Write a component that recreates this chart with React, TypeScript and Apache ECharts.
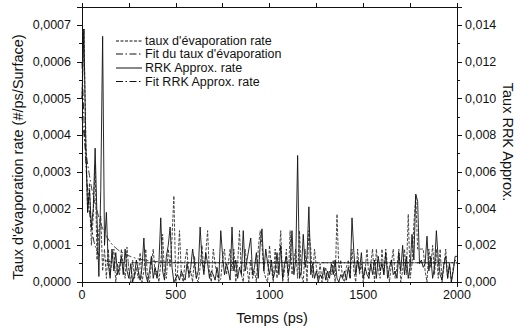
import React, { useEffect, useRef } from "react";
import * as echarts from "echarts";

// sampling grid of the simulation output: one point every 10 ps, 0 .. 2000 ps
const T_STEP = 10;
const T_COUNT = 201;
const times: number[] = Array.from({ length: T_COUNT }, (_, i) => i * T_STEP);

// taux d'évaporation rate (left axis), 0..1990 in rows of 200 ps, then 2000
const evapRate: number[] = [
  50e-5, 69e-5, 40e-5, 19e-5, 27e-5, 10e-5, 18e-5, 32e-5, 6e-5, 14e-5, 18e-5, 3e-5, 9e-5, 1e-5, 9e-5, 2e-5, 6e-5, 9e-5, 0, 5e-5,
  2e-5, 9e-5, 4e-5, 1e-5, 9.5e-5, 3e-5, 0, 6e-5, 1e-5, 4e-5, 1e-5, 8e-5, 0, 3e-5, 9e-5, 1e-5, 0, 5e-5, 9e-5, 2e-5,
  3e-5, 0, 5e-5, 13e-5, 2e-5, 1e-5, 9e-5, 4e-5, 12e-5, 23.5e-5, 0, 3e-5, 14e-5, 2e-5, 0, 6e-5, 9e-5, 1e-5, 3e-5, 0,
  7e-5, 1e-5, 0, 4e-5, 10e-5, 3e-5, 8e-5, 14e-5, 2e-5, 0, 9e-5, 5e-5, 2e-5, 0, 1e-5, 6e-5, 9e-5, 2e-5, 5e-5, 9e-5,
  3e-5, 9e-5, 0, 5e-5, 14e-5, 2e-5, 0, 9e-5, 4e-5, 0, 6e-5, 1e-5, 3e-5, 0, 9e-5, 14e-5, 10e-5, 3e-5, 1e-5, 0,
  10e-5, 4e-5, 0, 9e-5, 1e-5, 6e-5, 14e-5, 0, 3e-5, 9e-5, 0, 14e-5, 2e-5, 6e-5, 9e-5, 1e-5, 14e-5, 2e-5, 0, 9e-5,
  0, 14e-5, 9e-5, 1e-5, 9e-5, 4e-5, 1e-5, 5e-5, 0, 2e-5, 4e-5, 0, 3e-5, 2e-5, 6e-5, 0, 18.5e-5, 3e-5, 6e-5, 1e-5,
  0, 4e-5, 6e-5, 1e-5, 9e-5, 3e-5, 0, 9e-5, 2e-5, 5e-5, 0, 3e-5, 9e-5, 1e-5, 5e-5, 9e-5, 0, 9e-5, 3e-5, 1e-5,
  9e-5, 2e-5, 9e-5, 4e-5, 0, 5e-5, 9e-5, 1e-5, 4e-5, 9e-5, 0, 3e-5, 9e-5, 2e-5, 18.5e-5, 1e-5, 5e-5, 16e-5, 23.5e-5, 9e-5,
  9e-5, 9e-5, 9e-5, 3e-5, 0, 9e-5, 4e-5, 10e-5, 2e-5, 9e-5, 1e-5, 9e-5, 0, 4e-5, 9e-5, 1e-5, 5e-5, 0, 4e-5, 6e-5,
  5e-5,
];

// RRK Approx. rate (right axis), same grid
const rrkRate: number[] = [
  100e-4, 138e-4, 76e-4, 38e-4, 50e-4, 30e-4, 40e-4, 73e-4, 35e-4, 3e-4, 50e-4, 134e-4, 20e-4, 38e-4, 10e-4, 2e-4, 18e-4, 6e-4, 16e-4, 4e-4,
  8e-4, 14e-4, 4e-4, 18e-4, 6e-4, 2e-4, 10e-4, 0, 4e-4, 12e-4, 6e-4, 1e-4, 8e-4, 24e-4, 4e-4, 0, 6e-4, 14e-4, 2e-4, 8e-4,
  2e-4, 10e-4, 35e-4, 6e-4, 1e-4, 14e-4, 20e-4, 30e-4, 8e-4, 0, 2e-4, 4e-4, 1e-4, 6e-4, 3e-4, 1e-4, 10e-4, 4e-4, 8e-4, 18e-4,
  10e-4, 2e-4, 6e-4, 30e-4, 12e-4, 4e-4, 16e-4, 10e-4, 2e-4, 6e-4, 4e-4, 1e-4, 8e-4, 2e-4, 28e-4, 14e-4, 4e-4, 10e-4, 6e-4, 1e-4,
  30e-4, 6e-4, 12e-4, 2e-4, 8e-4, 4e-4, 28e-4, 6e-4, 12e-4, 18e-4, 24e-4, 4e-4, 8e-4, 16e-4, 2e-4, 20e-4, 29e-4, 6e-4, 18e-4, 10e-4,
  4e-4, 12e-4, 2e-4, 6e-4, 16e-4, 4e-4, 20e-4, 2e-4, 10e-4, 14e-4, 4e-4, 10e-4, 28e-4, 4e-4, 12e-4, 69e-4, 2e-4, 6e-4, 26e-4, 8e-4,
  14e-4, 41e-4, 4e-4, 10e-4, 2e-4, 6e-4, 0, 4e-4, 2e-4, 8e-4, 1e-4, 6e-4, 2e-4, 10e-4, 4e-4, 12e-4, 2e-4, 0, 4e-4, 2e-4,
  6e-4, 1e-4, 8e-4, 2e-4, 35e-4, 16e-4, 4e-4, 12e-4, 6e-4, 16e-4, 2e-4, 8e-4, 4e-4, 2e-4, 10e-4, 4e-4, 12e-4, 2e-4, 14e-4, 6e-4,
  10e-4, 4e-4, 16e-4, 2e-4, 8e-4, 12e-4, 4e-4, 6e-4, 2e-4, 16e-4, 6e-4, 20e-4, 4e-4, 14e-4, 2e-4, 8e-4, 26e-4, 12e-4, 48e-4, 44e-4,
  10e-4, 12e-4, 8e-4, 10e-4, 25e-4, 6e-4, 14e-4, 2e-4, 8e-4, 28e-4, 12e-4, 4e-4, 1e-4, 10e-4, 14e-4, 2e-4, 10e-4, 0, 6e-4, 14e-4,
  14e-4,
];

// Fit du taux d'évaporation (left axis)
const fitEvapTimes: number[] = [0, 20, 40, 60, 80, 100, 120, 140, 160, 180, 200, 240, 280, 320, 360, 400, 450, 500, 600, 2000];
const fitEvap: number[] = [
  0.00045, 0.00036, 0.00029, 0.000235, 0.000195, 0.00016, 0.000135, 0.000117, 0.000103, 0.000093,
  0.000085, 0.000074, 0.000066, 0.000061, 0.0000575, 0.0000555, 0.000054, 0.000053, 0.0000525, 0.0000525,
];

// Fit RRK Approx. rate (right axis)
const fitRrkTimes: number[] = [0, 10, 20, 30, 40, 60, 80, 100, 120, 150, 200, 300, 2000];
const fitRrk: number[] = [0.012, 0.009, 0.0066, 0.005, 0.0038, 0.0024, 0.0017, 0.00136, 0.0012, 0.0011, 0.00106, 0.00105, 0.00105];

const legendNames: string[] = [
  "taux d'évaporation rate",
  "Fit du taux d'évaporation",
  "RRK Approx. rate",
  "Fit RRK Approx. rate",
];

const FONT = "Liberation Sans, Arial, Helvetica, sans-serif";
const DASH: number[] = [3, 1.5];
const DASHDOT: number[] = [7, 2.5, 1.5, 2.5];

export default function App() {
  const ref = useRef<HTMLDivElement>(null);
  useEffect(() => {
    if (!ref.current) return;
    const chart = echarts.init(ref.current, undefined, { renderer: "svg" });
    const pair = (xs: number[], ys: number[]) => xs.map((x, i) => [x, ys[i]]);
    const mkTick = () => ({ color: "#111", width: 1 });
    const axisLine = () => ({ show: true, onZero: false, lineStyle: { color: "#111", width: 1 } });

    const legendStyles = [
      { dash: DASH, y: 41 },
      { dash: DASHDOT, y: 54 },
      { dash: null as number[] | null, y: 68 },
      { dash: DASHDOT, y: 81.5 },
    ];
    const legendGraphics: any[] = [];
    legendNames.forEach((name, i) => {
      const s = legendStyles[i];
      legendGraphics.push({
        type: "line",
        shape: { x1: 116, y1: s.y, x2: 142, y2: s.y },
        style: { stroke: "#111", lineWidth: 1, lineDash: s.dash || undefined },
        z: 10,
      });
      legendGraphics.push({
        type: "text",
        x: 145,
        y: s.y,
        style: {
          text: name,
          fontFamily: FONT,
          fontSize: 12.5,
          fill: "#111",
          align: "left",
          verticalAlign: "middle",
        },
        z: 10,
      });
    });

    chart.setOption({
      animation: false,
      backgroundColor: "#fff",
      grid: { left: 82, right: 60, top: 7, bottom: 46 },
      xAxis: [
        {
          type: "value",
          min: 0,
          max: 2000,
          interval: 500,
          position: "bottom",
          splitLine: { show: false },
          axisLine: axisLine(),
          axisTick: { show: true, inside: false, length: 5, lineStyle: mkTick() },
          minorTick: { show: true, splitNumber: 2, length: 3, lineStyle: mkTick() },
          axisLabel: {
            fontFamily: FONT,
            fontSize: 12.5,
            color: "#111",
            margin: 6,
            formatter: (v: number) => String(v),
          },
        },
        {
          type: "value",
          min: 0,
          max: 2000,
          interval: 500,
          position: "top",
          splitLine: { show: false },
          axisLine: axisLine(),
          axisTick: { show: true, inside: false, length: 4, lineStyle: mkTick() },
          minorTick: { show: true, splitNumber: 2, length: 4, lineStyle: mkTick() },
          axisLabel: { show: false },
        },
      ],
      yAxis: [
        {
          type: "value",
          min: 0,
          max: 0.00075,
          interval: 0.0001,
          position: "left",
          splitLine: { show: false },
          axisLine: axisLine(),
          axisTick: { show: true, inside: false, length: 5, lineStyle: mkTick() },
          minorTick: { show: true, splitNumber: 2, length: 3, lineStyle: mkTick() },
          axisLabel: {
            fontFamily: FONT,
            fontSize: 12.5,
            color: "#111",
            margin: 11,
            showMaxLabel: false,
            formatter: (v: number) => v.toFixed(4).replace(".", ","),
          },
        },
        {
          type: "value",
          min: 0,
          max: 0.015,
          interval: 0.002,
          position: "right",
          splitLine: { show: false },
          axisLine: axisLine(),
          axisTick: { show: true, inside: false, length: 5, lineStyle: mkTick() },
          minorTick: { show: true, splitNumber: 2, length: 3, lineStyle: mkTick() },
          axisLabel: {
            fontFamily: FONT,
            fontSize: 12.5,
            color: "#111",
            margin: 8,
            showMaxLabel: false,
            formatter: (v: number) => v.toFixed(3).replace(".", ","),
          },
        },
      ],
      series: [
        {
          name: legendNames[0],
          type: "line",
          xAxisIndex: 0,
          yAxisIndex: 0,
          data: pair(times, evapRate),
          showSymbol: false,
          symbol: "none",
          lineStyle: { color: "#333", width: 0.9, type: DASH },
          z: 3,
        },
        {
          name: legendNames[1],
          type: "line",
          xAxisIndex: 0,
          yAxisIndex: 0,
          data: pair(fitEvapTimes, fitEvap),
          smooth: true,
          showSymbol: false,
          symbol: "none",
          lineStyle: { color: "#222", width: 0.9, type: DASHDOT },
          z: 4,
        },
        {
          name: legendNames[2],
          type: "line",
          xAxisIndex: 0,
          yAxisIndex: 1,
          data: pair(times, rrkRate),
          showSymbol: false,
          symbol: "none",
          lineStyle: { color: "#111", width: 0.9 },
          z: 3,
        },
        {
          name: legendNames[3],
          type: "line",
          xAxisIndex: 0,
          yAxisIndex: 1,
          data: pair(fitRrkTimes, fitRrk),
          smooth: true,
          showSymbol: false,
          symbol: "none",
          lineStyle: { color: "#111", width: 0.9, type: DASHDOT },
          z: 4,
        },
      ],
      graphic: [
        ...legendGraphics,
        {
          type: "text",
          x: 18,
          y: 157,
          rotation: Math.PI / 2,
          style: {
            text: "Taux d'évaporation rate (#/ps/Surface)",
            fontFamily: FONT,
            fontSize: 14.5,
            fill: "#111",
            align: "center",
            verticalAlign: "middle",
          },
        },
        {
          type: "text",
          x: 508,
          y: 142,
          rotation: -Math.PI / 2,
          style: {
            text: "Taux RRK Approx.",
            fontFamily: FONT,
            fontSize: 14.5,
            fill: "#111",
            align: "center",
            verticalAlign: "middle",
          },
        },
        {
          type: "text",
          x: 272,
          y: 318,
          style: {
            text: "Temps (ps)",
            fontFamily: FONT,
            fontSize: 14.5,
            fill: "#111",
            align: "center",
            verticalAlign: "middle",
          },
        },
      ],
    });
    return () => chart.dispose();
  }, []);
  return <div ref={ref} style={{ width: 517, height: 328, position: "absolute", left: 0, top: 0 }} />;
}
